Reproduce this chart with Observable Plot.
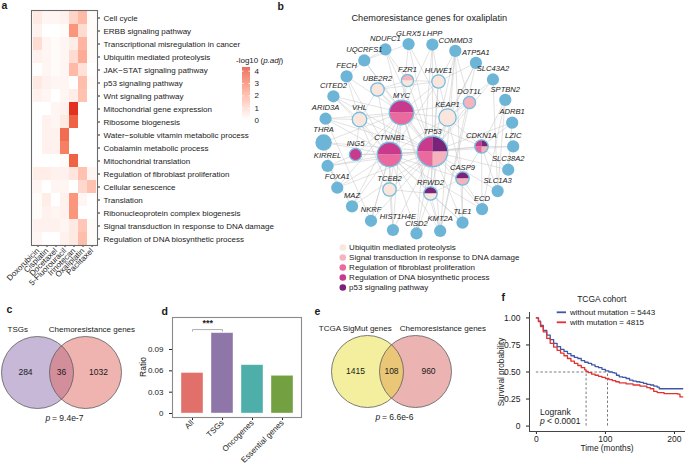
<!DOCTYPE html>
<html><head><meta charset="utf-8">
<script src="https://cdn.jsdelivr.net/npm/d3@7"></script>
<script src="https://cdn.jsdelivr.net/npm/@observablehq/plot@0.6"></script>
<style>
html,body{margin:0;padding:0;background:#fff;}
#fig{position:relative;width:685px;height:464px;overflow:hidden;font-family:"Liberation Sans",Arial,Helvetica,sans-serif;}
#fig .panel{position:absolute;}
#fig svg{overflow:visible;}
</style></head><body><div id="fig"></div>
<script>
// ---------------- DATA ----------------
// a: heatmap
const drugs = ["Doxorubicin","Cisplatin","Docetaxel","5-Fluorouracil","Irinotecan","Oxaliplatin","Paclitaxel"];
const pathways = ["Cell cycle","ERBB signaling pathway","Transcriptional misregulation in cancer","Ubiquitin mediated proteolysis","JAK\u2212STAT signaling pathway","p53 signaling pathway","Wnt signaling pathway","Mitochondrial gene expression","Ribosome biogenesis","Water\u2212soluble vitamin metabolic process","Cobalamin metabolic process","Mitochondrial translation","Regulation of fibroblast proliferation","Cellular senescence","Translation","Ribonucleoprotein complex biogenesis","Signal transduction in response to DNA damage","Regulation of DNA biosynthetic process"];
const negLog10Padj = [
 [0.5,0.2,0.2,0.3,1.0,1.6,0.1],
 [0.3,0.0,0.0,0.1,2.4,0.8,0.1],
 [0.8,0.2,0.1,0.2,0.4,1.7,0.1],
 [0.3,0.2,0.1,0.2,0.8,1.9,0.1],
 [0.0,0.2,0.1,0.2,1.6,0.7,0.0],
 [0.5,0.3,0.2,0.2,0.0,1.5,0.1],
 [0.3,0.2,0.0,0.2,0.4,1.4,0.0],
 [0.0,0.0,0.2,0.3,4.3,0.0,0.0],
 [0.0,0.3,0.2,0.5,3.5,0.0,0.0],
 [0.0,0.3,0.3,3.3,0.0,0.0,0.0],
 [0.0,0.3,0.3,2.9,0.0,0.0,0.0],
 [0.0,0.0,0.0,0.1,3.5,0.0,0.0],
 [0.4,0.4,0.3,0.3,0.6,1.4,0.2],
 [0.2,0.0,0.2,0.2,0.0,0.9,1.4],
 [0.1,0.4,0.0,0.3,2.4,0.2,0.0],
 [0.1,0.3,0.2,0.3,2.4,0.0,0.0],
 [0.3,0.3,0.3,0.2,0.5,1.3,0.1],
 [0.2,0.0,0.0,0.3,0.5,1.5,0.1]
];
const heatLegendTicks = [0,1,2,3,4];

// b: network
const networkCategories = ["Ubiquitin mediated proteolysis","Signal transduction in response to DNA damage","Regulation of fibroblast proliferation","Regulation of DNA biosynthetic process","p53 signaling pathway"];
const outerGenes = ["GLRX5","LHPP","COMMD3","ATP5A1","SLC43A2","SPTBN2","ADRB1","LZIC","SLC38A2","SLC1A3","ECD","TLE1","KMT2A","CISD2","HIST1H4E","NKRF","MAZ","FOXA1","KIRREL","THRA","ARID3A","CITED2","FECH","UQCRFS1","NDUFC1"];
const innerGenes = ["FZR1","HUWE1","UBE2R2","DOT1L","MYC","KEAP1","VHL","TP53","CTNNB1","CDKN1A","ING5","CASP9","TCEB2","RFWD2"];
const [UBQ, SIG, FIB, DNA, P53] = networkCategories;
const geneCategories = {
  FZR1:[SIG,UBQ], HUWE1:[UBQ], UBE2R2:[UBQ], DOT1L:[SIG], MYC:[DNA,FIB], KEAP1:[UBQ], VHL:[UBQ],
  TP53:[DNA,P53,SIG,FIB], CTNNB1:[DNA,FIB], CDKN1A:[DNA,P53,SIG,FIB], ING5:[DNA], CASP9:[P53,SIG],
  TCEB2:[UBQ], RFWD2:[P53,UBQ]
};
const nodeDegree = {
  GLRX5:5,LHPP:5,COMMD3:5,ATP5A1:5,SLC43A2:5,SPTBN2:5,ADRB1:5,LZIC:5,SLC38A2:5,SLC1A3:5,ECD:5,TLE1:5,KMT2A:5,CISD2:5,HIST1H4E:5,NKRF:5,MAZ:5,FOXA1:5,KIRREL:5,THRA:9,ARID3A:5,CITED2:5,FECH:5,UQCRFS1:5,NDUFC1:5,
  FZR1:5,HUWE1:6,UBE2R2:6,DOT1L:5,MYC:20,KEAP1:10,VHL:7,TP53:31,CTNNB1:20,CDKN1A:6,ING5:5,CASP9:6,TCEB2:6,RFWD2:6
};
const interactions = [
 ["TP53","MYC"],["TP53","CTNNB1"],["TP53","KEAP1"],["TP53","HUWE1"],["TP53","FZR1"],["TP53","DOT1L"],["TP53","CDKN1A"],["TP53","CASP9"],["TP53","RFWD2"],["TP53","TCEB2"],["TP53","VHL"],["TP53","ING5"],["TP53","UBE2R2"],["TP53","COMMD3"],["TP53","ATP5A1"],["TP53","SLC43A2"],["TP53","LZIC"],["TP53","SLC38A2"],["TP53","ECD"],["TP53","TLE1"],["TP53","KMT2A"],["TP53","CISD2"],["TP53","HIST1H4E"],["TP53","NKRF"],["TP53","MAZ"],["TP53","FOXA1"],["TP53","THRA"],["TP53","ARID3A"],["TP53","CITED2"],["TP53","KIRREL"],["TP53","GLRX5"],["TP53","LHPP"],["TP53","NDUFC1"],["TP53","UQCRFS1"],["TP53","ADRB1"],["TP53","SLC1A3"],
 ["MYC","CTNNB1"],["MYC","KEAP1"],["MYC","HUWE1"],["MYC","FZR1"],["MYC","VHL"],["MYC","UBE2R2"],["MYC","CDKN1A"],["MYC","TCEB2"],["MYC","ING5"],["MYC","FECH"],["MYC","CITED2"],["MYC","ARID3A"],["MYC","THRA"],["MYC","MAZ"],["MYC","NKRF"],["MYC","FOXA1"],["MYC","UQCRFS1"],["MYC","NDUFC1"],["MYC","GLRX5"],["MYC","HIST1H4E"],["MYC","KMT2A"],["MYC","DOT1L"],["MYC","RFWD2"],["MYC","LHPP"],
 ["CTNNB1","KEAP1"],["CTNNB1","VHL"],["CTNNB1","CDKN1A"],["CTNNB1","CASP9"],["CTNNB1","TCEB2"],["CTNNB1","ING5"],["CTNNB1","FOXA1"],["CTNNB1","KIRREL"],["CTNNB1","THRA"],["CTNNB1","CITED2"],["CTNNB1","MAZ"],["CTNNB1","NKRF"],["CTNNB1","HIST1H4E"],["CTNNB1","CISD2"],["CTNNB1","KMT2A"],["CTNNB1","TLE1"],["CTNNB1","ECD"],["CTNNB1","FECH"],["CTNNB1","ARID3A"],["CTNNB1","HUWE1"],["CTNNB1","UBE2R2"],["CTNNB1","RFWD2"],
 ["KEAP1","HUWE1"],["KEAP1","CDKN1A"],["KEAP1","CASP9"],["KEAP1","RFWD2"],["KEAP1","COMMD3"],["KEAP1","ATP5A1"],["KEAP1","DOT1L"],["KEAP1","SLC43A2"],["KEAP1","GLRX5"],
 ["HUWE1","FZR1"],["HUWE1","COMMD3"],["HUWE1","LHPP"],["HUWE1","ATP5A1"],["HUWE1","RFWD2"],["HUWE1","UBE2R2"],
 ["CDKN1A","CASP9"],["CDKN1A","SLC38A2"],["CDKN1A","LZIC"],["CDKN1A","ADRB1"],["CDKN1A","ECD"],["CDKN1A","SLC1A3"],["CDKN1A","SPTBN2"],
 ["VHL","UBE2R2"],["VHL","TCEB2"],["VHL","ING5"],["VHL","FECH"],["VHL","ARID3A"],["VHL","CITED2"],
 ["RFWD2","CASP9"],["RFWD2","TCEB2"],["RFWD2","KMT2A"],["RFWD2","TLE1"],["RFWD2","CISD2"],
 ["FZR1","UBE2R2"],["FZR1","NDUFC1"],["DOT1L","COMMD3"],["DOT1L","KMT2A"],["CASP9","ECD"],["CASP9","TLE1"],["TCEB2","HIST1H4E"],["ING5","KIRREL"],
 ["COMMD3","TLE1"],["ATP5A1","KMT2A"],["LHPP","CISD2"],["COMMD3","KMT2A"],["SPTBN2","SLC1A3"],["SPTBN2","ECD"],["ADRB1","SLC38A2"],["SLC43A2","SLC1A3"],["UQCRFS1","NDUFC1"],["GLRX5","UQCRFS1"],["THRA","FOXA1"],["KIRREL","MAZ"],["ARID3A","NKRF"],["FECH","UQCRFS1"]
];

// c, e: Venn
const vennCSets = ["TSGs","Chemoresistance genes"];
const vennCCounts = [284, 36, 1032];
const vennCP = "9.4e-7";
const vennESets = ["TCGA SigMut genes","Chemoresistance genes"];
const vennECounts = [1415, 108, 960];
const vennEP = "6.6e-6";

// d: bars
const geneSets = ["All","TSGs","Oncogenes","Essential genes"];
const ratios = [0.057, 0.113, 0.068, 0.053];
const ratioTicks = [0, 0.03, 0.06, 0.09];
const significance = {from:"All", to:"TSGs", label:"***"};

// f: Kaplan–Meier
const kmGroups = ["without mutation = 5443","with mutation = 4815"];
const kmTimeWithout = [0,3,6,10,15,20,25,30,35,40,45,50,55,60,65,70,75,80,85,90,95,100,105,110,113,116,120,125,130,135,140,145,150,155,160,165,170,175,178,185,195,205,212];
const kmSurvWithout = [1,0.97,0.93,0.885,0.84,0.80,0.765,0.735,0.71,0.69,0.67,0.65,0.635,0.625,0.605,0.59,0.58,0.565,0.55,0.54,0.525,0.51,0.50,0.495,0.49,0.47,0.455,0.45,0.44,0.425,0.415,0.41,0.405,0.395,0.385,0.38,0.37,0.36,0.345,0.345,0.345,0.345,0.345];
const kmTimeWith = [0,3,6,10,15,20,25,30,35,40,45,50,55,60,65,70,72,75,80,85,90,95,100,105,110,115,120,130,140,150,160,165,170,175,185,195,205,208,212];
const kmSurvWith = [1,0.965,0.92,0.87,0.81,0.765,0.73,0.70,0.675,0.65,0.625,0.60,0.58,0.56,0.54,0.52,0.505,0.495,0.48,0.47,0.46,0.45,0.44,0.43,0.42,0.41,0.40,0.39,0.38,0.37,0.355,0.345,0.32,0.31,0.30,0.30,0.295,0.27,0.27];
const kmMedians = [72, 103];
const kmXTicks = [0,100,200];
const kmYTicks = [0,0.25,0.5,0.75,1];

// ---------------- STYLE / LAYOUT ----------------
const FONT = '"Liberation Sans", Arial, Helvetica, sans-serif';
const fig = document.getElementById("fig");
const baseStyle = {fontFamily: FONT, fontSize: "8px", background: "transparent", overflow: "visible", color: "#222", maxWidth: "none"};
function place(node, left, top, width) {
  const div = document.createElement("div");
  div.className = "panel";
  div.style.left = left + "px"; div.style.top = top + "px"; div.style.width = width + "px";
  div.appendChild(node); fig.appendChild(div); return div;
}
const heatColor = {type: "linear", domain: [0, 4.3], range: ["#ffffff", "#e2311f"], interpolate: "lab"};
const networkColors = ["#fbe6dd","#f5b3bd","#ea6a9f","#c93a8d","#7a2379"];
const netColor = {type: "ordinal", domain: networkCategories, range: networkColors};
const blueNode = "#6db5d7";

// ---------------- a: heatmap ----------------
const heatCells = pathways.flatMap((p, i) => drugs.map((d, j) => ({pathway: p, drug: d, value: negLog10Padj[i][j]})));
place(Plot.plot({
  width: 290, height: 290, marginLeft: 31, marginRight: 193, marginTop: 10, marginBottom: 45,
  style: baseStyle,
  x: {domain: drugs, padding: 0, label: null, tickRotate: -45, tickSize: 2, tickPadding: 2},
  y: {domain: pathways, padding: 0, label: null, axis: "right", tickSize: 2, tickPadding: 4},
  color: heatColor,
  marks: [
    Plot.cell(heatCells, {x: "drug", y: "pathway", fill: "value", inset: 0}),
    Plot.frame({stroke: "#6a6a6a", strokeWidth: 1.1})
  ]
}), 0, 0, 290);

// heatmap colour bar
const ramp = d3.range(0, 4.3, 0.02);
place(Plot.plot({
  width: 40, height: 62, marginLeft: 6, marginRight: 26, marginTop: 5, marginBottom: 4,
  style: baseStyle,
  x: {axis: null},
  y: {domain: [0, 4.3], ticks: heatLegendTicks, tickFormat: d => String(d), tickSize: 0, tickPadding: 4, axis: "right", label: null},
  color: heatColor,
  marks: [
    Plot.rect(ramp, {y1: d => d, y2: d => d + 0.021, fill: d => d + 0.01}),
    Plot.tickY(heatLegendTicks, {y: d => d, stroke: "white", strokeWidth: 0.8, insetRight: 6.4}),
    Plot.tickY(heatLegendTicks, {y: d => d, stroke: "white", strokeWidth: 0.8, insetLeft: 6.4})
  ]
}), 236, 62, 40);

// ---------------- b: network ----------------
const netCenter = {x: 418, y: 138}; // page position of network centre
const ringRadius = 95;
const innerLayout = {
  FZR1:[-11,-58], HUWE1:[20,-57], UBE2R2:[-41,-49], DOT1L:[51,-36], MYC:[-17,-26], KEAP1:[29,-21], VHL:[-59,-19],
  TP53:[14,13], CTNNB1:[-29,16], CDKN1A:[63,8], ING5:[-63,16], CASP9:[44,40], TCEB2:[-29,51], RFWD2:[12,55]
};
const labelNudge = {HIST1H4E: [5, -3], CISD2: [0, 1], KMT2A: [0, -1.5]};
const rDomain = [0, 30], rRange = [0, 15];
const rOf = d3.scaleSqrt().domain(rDomain).range(rRange);
const outerNodes = outerGenes.map((g, i) => {
  const a = (-96 + i * 360 / outerGenes.length) * Math.PI / 180;
  return {gene: g, x: ringRadius * Math.cos(a), y: ringRadius * Math.sin(a), deg: nodeDegree[g]};
});
const innerNodes = innerGenes.map(g => ({gene: g, x: innerLayout[g][0], y: innerLayout[g][1], deg: nodeDegree[g], cats: geneCategories[g]}));
const allNodes = outerNodes.concat(innerNodes);
const pos = new Map(allNodes.map(d => [d.gene, d]));
const nudge = g => labelNudge[g] || [0, 0];
const wedge = (a0, a1) => ({draw(ctx, size) { const r = Math.sqrt(size / Math.PI); ctx.moveTo(0, 0); ctx.arc(0, 0, r, a0, a1); ctx.closePath(); }});
const slices = innerNodes.filter(d => d.cats.length > 1).flatMap(d => d.cats.map((c, i) => ({...d, cat: c, i, n: d.cats.length})));
const sliceGroups = d3.groups(slices, s => s.i + "/" + s.n);
const sliceMarks = sliceGroups.map(([key, rows]) => {
  const {i, n} = rows[0];
  const a0 = Math.PI + i * 2 * Math.PI / n, a1 = a0 + 2 * Math.PI / n;
  return Plot.dot(rows, {x: "x", y: "y", r: "deg", fill: "cat", symbol: wedge(a0, a1), sort: null});
});
const NW = 250, NH = 232, NL = 296, NT = 18;
place(Plot.plot({
  width: NW, height: NH, margin: 0, style: baseStyle,
  x: {domain: [NL - netCenter.x, NL + NW - netCenter.x], range: [0, NW], axis: null},
  y: {domain: [NT - netCenter.y, NT + NH - netCenter.y], range: [0, NH], axis: null},
  r: {type: "sqrt", domain: rDomain, range: rRange},
  color: netColor,
  marks: [
    Plot.link(interactions, {x1: d => pos.get(d[0]).x, y1: d => pos.get(d[0]).y, x2: d => pos.get(d[1]).x, y2: d => pos.get(d[1]).y, stroke: "#c4c4c4", strokeWidth: 0.55, strokeOpacity: 0.9}),
    Plot.dot(outerNodes, {x: "x", y: "y", r: "deg", fill: blueNode, sort: null}),
    Plot.dot(innerNodes.filter(d => d.cats.length === 1), {x: "x", y: "y", r: "deg", fill: d => d.cats[0], sort: null}),
    ...sliceMarks,
    Plot.dot(innerNodes, {x: "x", y: "y", r: "deg", fill: "none", stroke: "#72bde0", strokeWidth: 1.3, sort: null}),
    Plot.text(allNodes, {x: d => d.x + nudge(d.gene)[0], y: d => d.y - rOf(d.deg) - 4.6 + nudge(d.gene)[1], text: "gene", fontStyle: "italic", fontSize: 7.6, fill: "#222"})
  ]
}), NL, NT, NW);

// network legend
place(Plot.plot({
  width: 220, height: 53, margin: 0, style: baseStyle,
  x: {axis: null},
  y: {type: "band", domain: networkCategories, padding: 0, axis: null},
  color: netColor,
  marks: [
    Plot.dot(networkCategories, {y: d => d, frameAnchor: "left", dx: 3.3, r: 3.3, fill: d => d}),
    Plot.text(networkCategories, {y: d => d, frameAnchor: "left", dx: 9.6, text: d => d, textAnchor: "start", fontSize: 8, fill: "#222"})
  ]
}), 339.4, 240.4, 220);

// ---------------- c & e: Venn ----------------
function venn({sets, counts, p, center, nameX, nameY, leftFill, rightFill, topLeft}) {
  const W = 200, H = 120, L = -78, T = -52;
  const circ = [{x: -24, side: 0}, {x: 24, side: 1}];
  const rad = 36;
  const fills = topLeft
    ? [Plot.dot([circ[1]], {x: "x", y: 0, r: rad, fill: rightFill.c, fillOpacity: rightFill.a}),
       Plot.dot([circ[0]], {x: "x", y: 0, r: rad, fill: leftFill.c, fillOpacity: leftFill.a})]
    : [Plot.dot([circ[0]], {x: "x", y: 0, r: rad, fill: leftFill.c, fillOpacity: leftFill.a}),
       Plot.dot([circ[1]], {x: "x", y: 0, r: rad, fill: rightFill.c, fillOpacity: rightFill.a})];
  const regions = counts.map((c, i) => ({c, x: [-36, 0, 37][i]}));
  const names = sets.map((s, i) => ({s, x: nameX[i]}));
  const plot = Plot.plot({
    width: W, height: H, margin: 0, style: baseStyle,
    x: {domain: [L, L + W], range: [0, W], axis: null},
    y: {domain: [T, T + H], range: [0, H], axis: null},
    marks: [
      ...fills,
      Plot.dot(circ, {x: "x", y: 0, r: rad, fill: "none", stroke: "#5c5c5c", strokeWidth: 0.8}),
      Plot.text(regions, {x: "x", y: 0, text: d => String(d.c), fontSize: 8.5, fill: "#1a1a1a"}),
      Plot.text(names, {x: "x", y: nameY, text: "s", textAnchor: "start", fontSize: 8, fill: "#1a1a1a"}),
      Plot.text([p], {x: -16, y: 46, text: () => "p", textAnchor: "start", fontStyle: "italic", fontSize: 8.5, fill: "#1a1a1a"}),
      Plot.text([p], {x: -9.5, y: 46, text: d => "= " + d, textAnchor: "start", fontSize: 8.5, fill: "#1a1a1a"})
    ]
  });
  place(plot, center.x + L, center.y + T, W);
}
venn({sets: vennCSets, counts: vennCCounts, p: vennCP, center: {x: 61, y: 371.7}, nameX: [-54, -12.7], nameY: -43.5,
  leftFill: {c: "#c6b8d6", a: 1}, rightFill: {c: "rgb(222,100,94)", a: 0.49}, topLeft: false});
venn({sets: vennESets, counts: vennECounts, p: vennEP, center: {x: 390.7, y: 370.5}, nameX: [-72.7, 8.3], nameY: -42.8,
  leftFill: {c: "rgb(230,221,49)", a: 0.47}, rightFill: {c: "#ecb3b3", a: 1}, topLeft: true});

// ---------------- d: bar chart ----------------
const barData = geneSets.map((s, i) => ({set: s, ratio: ratios[i]}));
const bracketY = d3.max([significance.from, significance.to], s => ratios[geneSets.indexOf(s)]) + 0.005;
const bracket = [
  {x: significance.from, y: bracketY - 0.0022}, {x: significance.from, y: bracketY},
  {x: significance.to, y: bracketY}, {x: significance.to, y: bracketY - 0.0022}
];
place(Plot.plot({
  width: 180, height: 164, marginLeft: 42, marginRight: 9, marginTop: 17, marginBottom: 47,
  style: {...baseStyle, fontSize: "8px"},
  x: {domain: geneSets, padding: 0.28, label: null, tickRotate: -45, tickSize: 3, tickPadding: 1},
  y: {domain: [-0.0056, 0.135], ticks: ratioTicks, tickFormat: d => d === 0 ? "0" : d.toFixed(2), tickSize: 3, label: null},
  color: {type: "ordinal", domain: geneSets, range: ["#e2706a","#8f76a9","#4daeaa","#73a040"]},
  marks: [
    Plot.barY(barData, {x: "set", y: "ratio", fill: "set", stroke: "#ffffff", strokeOpacity: 0.5, strokeWidth: 0.8}),
    Plot.line(bracket, {x: "x", y: "y", stroke: "#9a9a9a", strokeWidth: 0.8}),
    Plot.text([significance], {x: d => d.from, dx: 15.2, y: bracketY + 0.0085, text: "label", fontSize: 9, fontWeight: "bold", fill: "#222"}),
    Plot.frame({stroke: "#8a8a8a", strokeWidth: 1.1})
  ]
}), 130, 300, 180);

// ---------------- f: Kaplan–Meier ----------------
const kmData = kmTimeWithout.map((t, i) => ({t, s: kmSurvWithout[i], g: kmGroups[0]}))
  .concat(kmTimeWith.map((t, i) => ({t, s: kmSurvWith[i], g: kmGroups[1]})));
const kmX = [-10, 216], kmY = [-0.05, 1.05];
place(Plot.plot({
  width: 195, height: 174, marginLeft: 39, marginRight: 0, marginTop: 22, marginBottom: 33,
  style: {...baseStyle, fontSize: "8.5px"},
  x: {domain: kmX, ticks: kmXTicks, tickSize: 3, tickPadding: 1.5, label: null},
  y: {domain: kmY, ticks: kmYTicks, tickFormat: d => d === 0 ? "0" : d.toFixed(2), tickSize: 3, label: null},
  color: {type: "ordinal", domain: kmGroups, range: ["#3f58a6","#e2322f"]},
  marks: [
    Plot.ruleX([kmX[0]], {stroke: "#444", strokeWidth: 1}),
    Plot.ruleY([kmY[0]], {stroke: "#444", strokeWidth: 1}),
    Plot.ruleY([0.5], {x1: 0, x2: d3.max(kmMedians), stroke: "#444", strokeWidth: 0.7, strokeDasharray: "2.5,2"}),
    Plot.ruleX(kmMedians, {x: d => d, y1: 0, y2: 0.5, stroke: "#444", strokeWidth: 0.7, strokeDasharray: "2.5,2"}),
    Plot.line(kmData, {x: "t", y: "s", stroke: "g", z: "g", curve: "step-after", strokeWidth: 1.3})
  ]
}), 490, 290, 195);

// ---------------- overlay text (panel letters, titles, axis labels, legends) ----------------
const svg = d3.create("svg").attr("width", 685).attr("height", 464)
  .style("position", "absolute").style("left", "0px").style("top", "0px").style("pointer-events", "none")
  .attr("font-family", FONT).attr("fill", "#1a1a1a");
function addText(parts, x, y, {size = 8, weight = null, anchor = "start", rotate = 0, fill = "#1a1a1a"} = {}) {
  const t = svg.append("text").attr("font-size", size).attr("text-anchor", anchor).attr("fill", fill);
  if (weight) t.attr("font-weight", weight);
  t.attr("transform", `translate(${x},${y})` + (rotate ? ` rotate(${rotate})` : ""));
  for (const p of (Array.isArray(parts) ? parts : [parts])) {
    if (typeof p === "string") t.append("tspan").text(p);
    else t.append("tspan").attr("font-style", "italic").text(p.i);
  }
}
const LET = {size: 10.5, weight: "bold"};
addText("a", 1.5, 9, LET);
addText("b", 277.5, 9.5, LET);
addText("c", 6.5, 313.3, LET);
addText("d", 161.5, 315, LET);
addText("e", 314.5, 315, LET);
addText("f", 501.5, 300.7, LET);
addText("Chemoresistance genes for oxaliplatin", 429.3, 21.3, {size: 9.2, anchor: "middle"});
addText(["-log10 (", {i: "p.adj"}, ")"], 236, 62.5, {size: 8});
addText("Ratio", 146, 367, {size: 8.5, anchor: "middle", rotate: -90});
addText("Survival probability", 504, 372, {size: 8.2, anchor: "middle", rotate: -90});
addText("Time (months)", 607, 451, {size: 8.3, anchor: "middle"});
addText("TCGA cohort", 601.7, 302, {size: 8.5, anchor: "middle"});
addText("Logrank", 540, 414.7, {size: 8.5});
addText([{i: "p"}, " < 0.0001"], 540, 424, {size: 8.5});
const kmLegendColors = ["#3f58a6","#e2322f"];
kmGroups.forEach((g, i) => {
  svg.append("line").attr("x1", 556.7).attr("x2", 566).attr("y1", 312.3 + i * 10).attr("y2", 312.3 + i * 10)
    .attr("stroke", kmLegendColors[i]).attr("stroke-width", 1.8);
  addText(g, 570, 315.3 + i * 10, {size: 8});
});
fig.appendChild(svg.node());
</script></body></html>
